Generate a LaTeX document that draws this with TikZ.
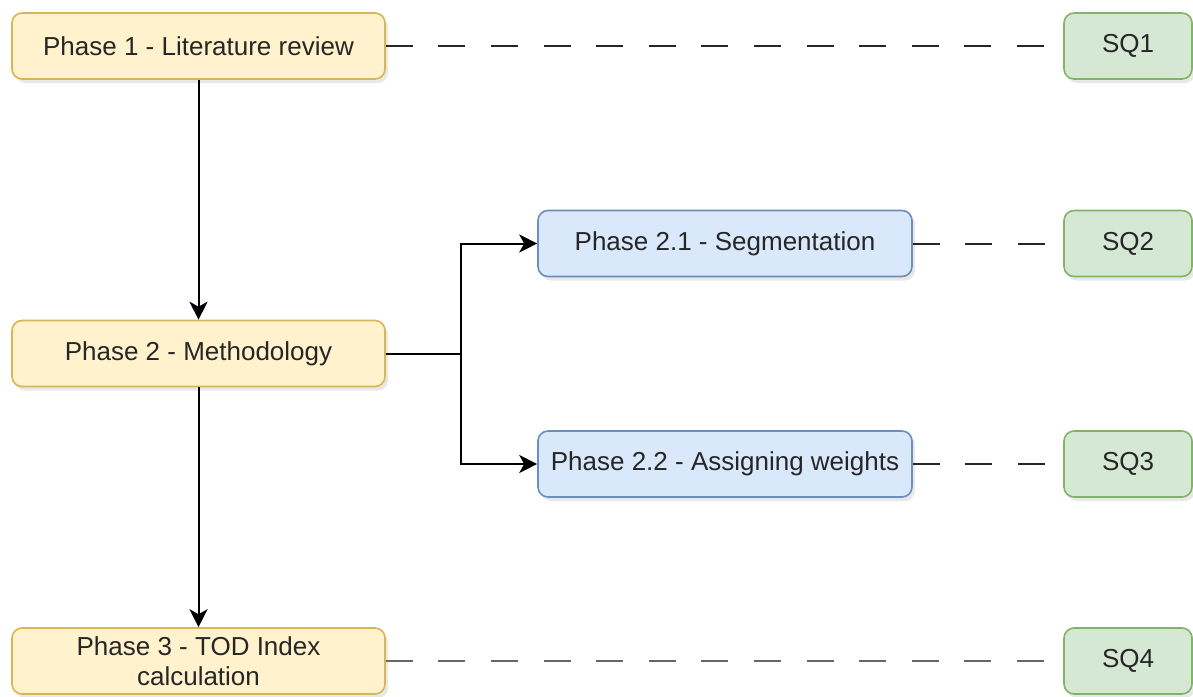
\documentclass[tikz,border=0pt]{standalone}
\usepackage{fontspec}
\setmainfont{Liberation Sans}
\usetikzlibrary{arrows.meta,shadows}
\definecolor{yfill}{HTML}{FFF2CC}
\definecolor{ydraw}{HTML}{D6B656}
\definecolor{bfill}{HTML}{DAE8FC}
\definecolor{bdraw}{HTML}{6C8EBF}
\definecolor{gfill}{HTML}{D5E8D4}
\definecolor{gdraw}{HTML}{82B366}
\definecolor{txt}{HTML}{262626}
\tikzset{
  box/.style={rounded corners=5pt, line width=0.8pt, align=center, text=txt,
    font=\fontsize{13}{15}\selectfont, inner sep=0pt,
    drop shadow={opacity=0.18, shadow xshift=1.5pt, shadow yshift=-2pt}},
  ybox/.style={box, fill=yfill, draw=ydraw, minimum width=186.5pt, minimum height=33pt},
  bbox/.style={box, fill=bfill, draw=bdraw, minimum width=187pt, minimum height=33pt},
  gbox/.style={box, fill=gfill, draw=gdraw, minimum width=64pt, minimum height=33pt},
  arr/.style={line width=1pt, draw=black, -{Stealth[length=9pt,width=9pt,inset=2.5pt]}},
  link/.style={line width=1pt, draw=txt, dash pattern=on 13.5pt off 12.8pt},
}
\begin{document}
\begin{tikzpicture}[x=0.5pt,y=-0.5pt]
\useasboundingbox (0,0) rectangle (1193,696);
\node[ybox] (p1) at (198.5,46) {Phase 1 - Literature review};
\node[ybox] (p2) at (198.5,353.5) {Phase 2 - Methodology};
\node[ybox] (p3) at (198.5,661) {Phase 3 - TOD Index\\calculation};
\node[bbox] (p21) at (725,243.5) {Phase 2.1 - Segmentation};
\node[bbox] (p22) at (725,464) {Phase 2.2 - Assigning weights};
\node[gbox] (s1) at (1128,46) {SQ1};
\node[gbox] (s2) at (1128,243.5) {SQ2};
\node[gbox] (s3) at (1128,464) {SQ3};
\node[gbox] (s4) at (1128,661) {SQ4};
\coordinate (j) at (461,353.5);
\draw[arr] (p1) -- (p2);
\draw[arr] (p2) -- (p3);
\draw[arr] (p2.east) -- (j) |- (p21.west);
\draw[arr] (j) |- (p22.west);
\draw[link] (p1.east) -- (s1.west);
\draw[link] (p21.east) -- (s2.west);
\draw[link] (p22.east) -- (s3.west);
\draw[link, draw=black!60] (p3.east) -- (s4.west);
\end{tikzpicture}
\end{document}
